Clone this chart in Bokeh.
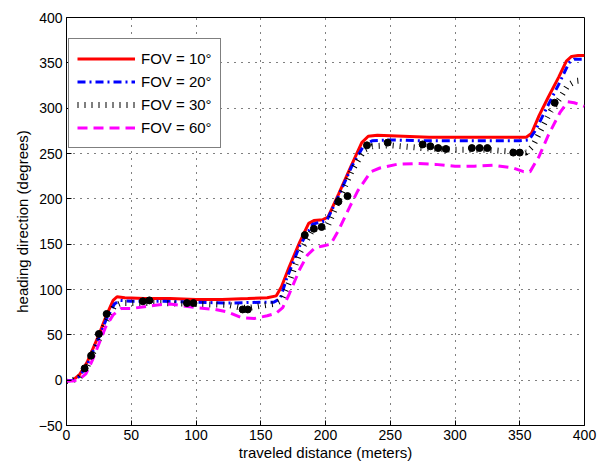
from bokeh.plotting import figure
from bokeh.models import Legend, LegendItem, FixedTicker, Range1d
from bokeh.embed import file_html
from bokeh.resources import INLINE

# Heading direction vs traveled distance for several fields of view
x_fov10 = [0, 5, 10, 16, 25, 31, 36, 39, 45, 60, 80, 100, 120, 140, 155, 162, 166, 172, 180, 187, 191, 198, 202, 210,
           220, 228, 233, 240, 260, 280, 300, 320, 340, 355, 359, 365, 372, 380, 386, 390, 395, 400]
y_fov10 = [-1, 0, 6, 20, 50, 72, 88, 92, 91, 90, 90, 89, 89, 90, 91, 93, 103, 125, 152, 173, 176, 177, 180, 205,
           237, 262, 269, 270, 269, 268, 268, 268, 268, 268, 272, 292, 312, 334, 352, 357, 358, 358]

x_fov20 = [0, 5, 10, 16, 25, 31, 37, 41, 50, 75, 100, 125, 150, 160, 165, 170, 180, 190, 195, 201, 210, 220, 230, 236,
           250, 275, 300, 325, 350, 357, 362, 370, 380, 388, 392, 400]
y_fov20 = [-1, 0, 4, 17, 47, 68, 84, 88, 87, 87, 86, 85, 86, 86, 90, 112, 148, 172, 174, 176, 203, 235, 260, 264,
           265, 264, 264, 264, 264, 265, 275, 298, 326, 350, 354, 354]

x_fov30 = [0, 5, 10, 16, 25, 31, 37, 42, 50, 75, 100, 125, 135, 142, 150, 160, 166, 172, 180, 190, 196, 202, 210, 220,
           230, 236, 250, 275, 300, 325, 345, 355, 360, 366, 374, 381, 387, 393, 400]
y_fov30 = [-1, 0, 3, 15, 45, 66, 82, 85, 85, 85, 84, 83, 80, 80, 82, 84, 88, 108, 140, 166, 169, 171, 198, 230,
           254, 258, 259, 256, 254, 254, 252, 251, 258, 275, 297, 311, 325, 330, 331]

x_fov60 = [0, 5, 10, 15, 20, 25, 30, 36, 42, 50, 60, 70, 80, 90, 100, 115, 125, 135, 145, 155, 162, 167, 172, 180,
           186, 192, 198, 204, 210, 219, 225, 235, 242, 255, 270, 285, 300, 315, 330, 345, 353, 358, 365, 372, 381,
           387, 392, 400]
y_fov60 = [-1, -1, 1, 7, 22, 40, 58, 72, 79, 79, 81, 83, 84, 82, 80, 78, 75, 69, 68, 71, 74, 80, 95, 122,
           138, 146, 148, 150, 165, 192, 209, 230, 234, 238, 239, 238, 236, 236, 237, 234, 230, 230, 247, 270, 295,
           307, 306, 302]

# sample points drawn as filled black markers
dot_x = [14, 19, 25, 31, 59, 64, 93, 98, 136, 140, 184, 191, 197, 210, 217, 232, 248, 275, 281, 287, 293,
         313, 319, 325, 345, 350, 377]
dot_y = [13, 27, 51, 73, 87, 88, 85, 85, 78, 78, 160, 167, 169, 197, 203, 259, 262, 260, 258, 256, 255,
         256, 256, 256, 251, 251, 306]

x_ticks = [0, 50, 100, 150, 200, 250, 300, 350, 400]
y_ticks = [-50, 0, 50, 100, 150, 200, 250, 300, 350, 400]
legend_labels = ["FOV = 10°", "FOV = 20°", "FOV = 30°", "FOV = 60°"]

FONT = "Liberation Sans"

p = figure(width=612, height=465, output_backend="svg", toolbar_location=None,
           x_range=Range1d(0, 400), y_range=Range1d(-50, 400),
           min_border_left=66, min_border_right=28, min_border_top=17, min_border_bottom=40)
p.background_fill_color = "white"
p.border_fill_color = "white"
p.outline_line_color = "black"
p.outline_line_width = 1

for ax in (p.xaxis[0], p.yaxis[0]):
    ax.major_label_text_font = FONT
    ax.major_label_text_font_size = "14px"
    ax.major_label_text_color = "black"
    ax.axis_label_text_font = FONT
    ax.axis_label_text_font_size = "15px"
    ax.axis_label_text_font_style = "normal"
    ax.axis_label_text_color = "black"
    ax.major_tick_in = 5
    ax.major_tick_out = 0
    ax.minor_tick_line_color = None
    ax.axis_line_color = "black"
    ax.major_tick_line_color = "black"

p.xaxis.ticker = FixedTicker(ticks=x_ticks)
p.yaxis.ticker = FixedTicker(ticks=y_ticks)
p.yaxis.major_label_overrides = {-50: "\u221250"}
p.xaxis.axis_label = "traveled distance (meters)"
p.yaxis.axis_label = "heading direction (degrees)"
p.xaxis.major_label_standoff = 4
p.xaxis.axis_label_standoff = 1
p.yaxis.major_label_standoff = 4
p.yaxis.axis_label_standoff = 5

p.xgrid.ticker = FixedTicker(ticks=x_ticks)
p.ygrid.ticker = FixedTicker(ticks=y_ticks)
p.grid.grid_line_color = "black"
p.grid.grid_line_alpha = 1.0
p.grid.grid_line_dash = "1 6"
p.grid.grid_line_width = 1

r10 = p.line(x_fov10, y_fov10, line_color="#ff0000", line_width=3)
r20 = p.line(x_fov20, y_fov20, line_color="#0000ff", line_width=3, line_dash="8 4 2 4")
r30 = p.line(x_fov30, y_fov30, line_color="black", line_width=6, line_dash="1 6")
r60 = p.line(x_fov60, y_fov60, line_color="#ff00ff", line_width=3, line_dash="10 6")
p.scatter(dot_x, dot_y, size=7, fill_color="black", line_color="black")

legend = Legend(items=[LegendItem(label=lab, renderers=[r]) for lab, r in
                       zip(legend_labels, [r10, r20, r30, r60])],
                location=(2, 277), padding=8, spacing=0, margin=0,
                glyph_width=58, glyph_height=23, label_height=23, label_standoff=6,
                label_text_font=FONT, label_text_font_size="15px", label_text_color="black",
                border_line_color="black", border_line_width=1, background_fill_alpha=1)
p.add_layout(legend, "center")

open("out.html", "w").write(file_html(p, INLINE))
